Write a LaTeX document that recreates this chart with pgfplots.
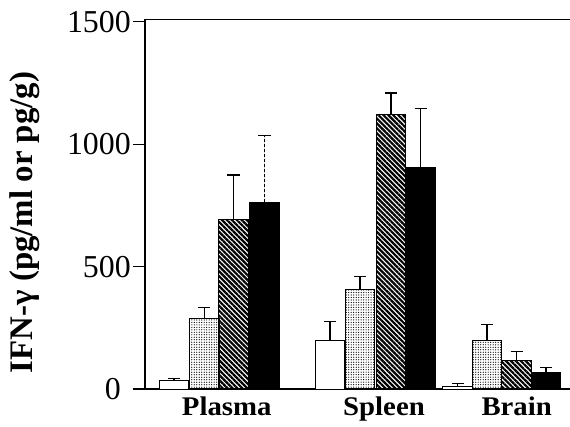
\documentclass[border=0pt]{standalone}
\usepackage{pgfplots}
\pgfplotsset{compat=1.18}
\usetikzlibrary{patterns.meta}
\usepackage{fontspec}
\setmainfont{Liberation Serif}
\newfontfamily\xfont[FakeStretch=1.07]{Liberation Serif}

\begin{document}
\begin{tikzpicture}
\useasboundingbox (-145bp,-38bp) rectangle (425bp,389bp);
\begin{axis}[
  at={(0,0)}, anchor=south west,
  scale only axis, width=425bp, height=369.5bp,
  xmin=145, xmax=570, ymin=0, ymax=1509,
  axis x line*=box, axis y line*=left,
  axis line style={line width=1.4pt,-},
  ybar, bar width=29.5, bar shift=0pt,
  ytick={0,500,1000,1500},
  yticklabels={{0\rule{10bp}{0pt}},500,1000,1500},
  tick align=outside,
  major tick length=12bp,
  y tick style={line width=1.2pt, black},
  x tick style={draw=none},
  yticklabel style={font=\fontsize{32}{32}\selectfont, inner xsep=2bp},
  /pgf/number format/assume math mode=true,
  xtick={226.7,384,516.7},
  xticklabels={Plasma,Spleen,Brain},
  xticklabel style={font=\xfont\bfseries\fontsize{27}{27}\selectfont, anchor=base, yshift=-14bp},
  ylabel={\bfseries IFN-γ (pg/ml or pg/g)},
  ylabel style={font=\fontsize{33}{33}\selectfont, at={(rel axis cs:-0.2824,0.4506)}, anchor=center},
  every axis plot/.append style={draw=black, line width=1pt,
    error bars/y dir=plus, error bars/y explicit,
    error bars/error bar style={line width=1.1pt, black, solid},
    error bars/error mark options={rotate=90, line width=1.1pt, mark size=6bp, black, solid}},
]
% white
\addplot[fill=white] coordinates {(174,33) +- (0,11) (330,197) +- (0,77) (457.5,12) +- (0,10)};
% dotted
\addplot[pattern={Dots[distance=2.5pt, radius=0.62pt]}] coordinates {(204.5,286) +- (0,45) (360,405) +- (0,54) (487,199) +- (0,64)};
% hatched
\addplot[pattern={Lines[angle=-45, distance=3.5pt, line width=2.2pt]}] coordinates {(233.5,693) +- (0,181) (391,1123) +- (0,86) (516.5,118) +- (0,34)};
% black, plasma (dashed error bar)
\addplot[fill=black, error bars/error bar style={black, dash pattern=on 3bp off 2bp, line width=1pt},
  error bars/error mark options={rotate=90, solid, line width=1.1pt, mark size=6bp, black}] coordinates {(264.5,762) +- (0,272)};
% black
\addplot[fill=black] coordinates {(420.5,904) +- (0,241) (546,68) +- (0,19)};
\end{axis}
\end{tikzpicture}
\end{document}
